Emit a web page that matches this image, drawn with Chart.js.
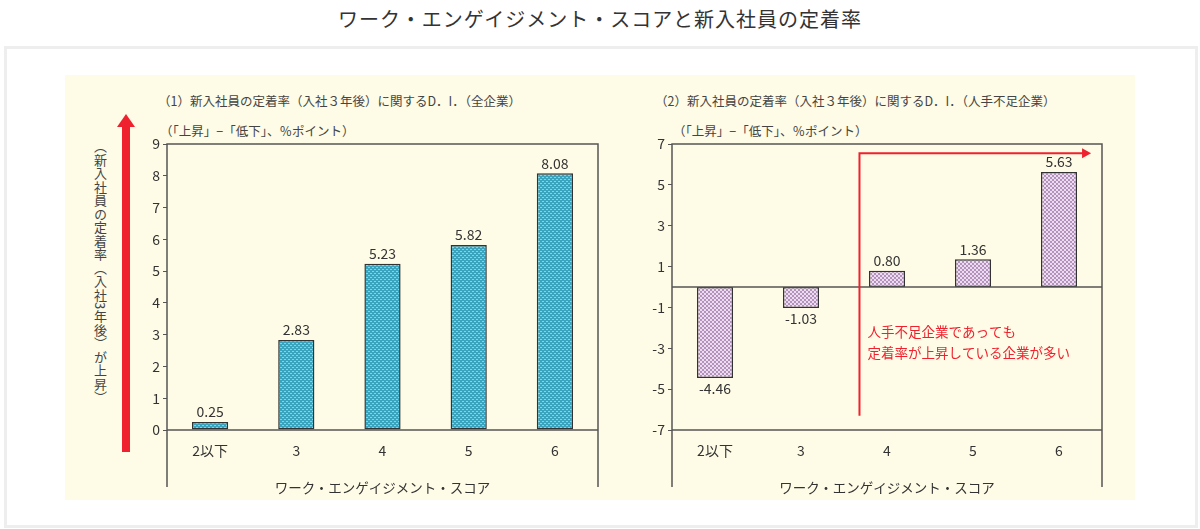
<!DOCTYPE html>
<html><head><meta charset="utf-8">
<script src="https://cdn.jsdelivr.net/npm/chart.js@4"></script>
<style>
body{margin:0;width:1200px;height:529px;background:#fff;font-family:"Noto Sans CJK JP","Noto Sans",sans-serif;position:relative;overflow:hidden;color:#333}
#title{position:absolute;top:4px;left:0;width:1200px;text-align:center;font-size:20px;letter-spacing:1px}
#card{position:absolute;left:4px;top:46px;width:1188px;height:476px;border:3px solid #eee}
#panel{position:absolute;left:65px;top:75px;width:1070px;height:425px;background:#fefbe6}
.t{position:absolute;font-size:12.5px;color:#444;white-space:nowrap}
#vt{position:absolute;left:91px;top:140px;writing-mode:vertical-rl;font-size:13px;color:#444;letter-spacing:0.5px}
#arrow{position:absolute;left:122px;top:126px;width:8px;height:326px;background:#f0212e}
#ahead{position:absolute;left:117px;top:114px;width:0;height:0;border-left:9px solid transparent;border-right:9px solid transparent;border-bottom:13px solid #f0212e}
canvas{position:absolute}
</style></head><body>
<div id="title">ワーク・エンゲイジメント・スコアと新入社員の定着率</div>
<div id="card"></div>
<div id="panel"></div>
<div class="t" style="left:158px;top:91px">（1）新入社員の定着率（入社３年後）に関するD．I．（全企業）</div>
<div class="t" style="left:160px;top:121px">（「上昇」−「低下」、％ポイント）</div>
<div class="t" style="left:655px;top:91px">（2）新入社員の定着率（入社３年後）に関するD．I．（人手不足企業）</div>
<div class="t" style="left:673px;top:121px">（「上昇」−「低下」、％ポイント）</div>
<div id="vt">（新入社員の定着率（入社3年後）が上昇）</div>
<div id="arrow"></div><div id="ahead"></div>
<canvas id="c1" width="480" height="415" style="left:130px;top:85px;width:480px;height:415px"></canvas>
<canvas id="c2" width="470" height="415" style="left:640px;top:85px;width:470px;height:415px"></canvas>
<script>
const categories = ["2以下", "3", "4", "5", "6"];
const allValues = [0.25, 2.83, 5.23, 5.82, 8.08];
const shortageValues = [-4.46, -1.03, 0.80, 1.36, 5.63];
const allTicks = [0, 1, 2, 3, 4, 5, 6, 7, 8, 9];
const shortageTicks = [-7, -5, -3, -1, 1, 3, 5, 7];
const axisTitle = "ワーク・エンゲイジメント・スコア";
const noteLines = ["人手不足企業であっても", "定着率が上昇している企業が多い"];

const FONT = '"Noto Sans CJK JP", "Noto Sans", sans-serif';

// 網掛けパターン
function makePattern(base, dot, kind) {
    const p = document.createElement("canvas");
    p.width = 4; p.height = 4;
    const g = p.getContext("2d");
    g.fillStyle = base; g.fillRect(0, 0, 4, 4);
    g.fillStyle = dot;
    if (kind === "wave") { g.fillRect(0, 0, 2, 1); g.fillRect(2, 2, 2, 1); }
    else { g.fillRect(0, 0, 2, 2); g.fillRect(2, 2, 2, 2); }
    return g.createPattern(p, "repeat");
}

const framePlugin = {
    id: "frame",
    afterDraw(chart, args, opts) {
        const { ctx, chartArea: a, scales } = chart;
        ctx.save();
        ctx.strokeStyle = "#555"; ctx.lineWidth = 1.5;
        ctx.beginPath();
        ctx.moveTo(a.left, a.bottom + 57); ctx.lineTo(a.left, a.top); ctx.lineTo(a.right, a.top); ctx.lineTo(a.right, a.bottom + 57);
        const y0 = scales.y.getPixelForValue(0);
        ctx.moveTo(a.left, y0); ctx.lineTo(a.right, y0);
        ctx.moveTo(a.left, a.bottom); ctx.lineTo(a.right, a.bottom);
        ctx.stroke();
        // 値ラベル
        ctx.fillStyle = "#333"; ctx.font = "14px " + FONT; ctx.textAlign = "center";
        const meta = chart.getDatasetMeta(0);
        chart.data.datasets[0].data.forEach((v, i) => {
            const bar = meta.data[i];
            const txt = v.toFixed(2);
            if (v >= 0) { ctx.textBaseline = "bottom"; ctx.fillText(txt, bar.x, bar.y - 3); }
            else { ctx.textBaseline = "top"; ctx.fillText(txt, bar.x, bar.y + 4); }
        });
        if (opts.note) {
            const x = scales.x.getPixelForValue(1.68);
            const yb = scales.y.getPixelForValue(-6.3), yt = scales.y.getPixelForValue(6.55);
            const xe = scales.x.getPixelForValue(4.28);
            ctx.strokeStyle = "#f0212e"; ctx.lineWidth = 2;
            ctx.beginPath(); ctx.moveTo(x, yb); ctx.lineTo(x, yt); ctx.lineTo(xe, yt); ctx.stroke();
            ctx.fillStyle = "#f0212e";
            ctx.beginPath(); ctx.moveTo(xe + 8, yt); ctx.lineTo(xe - 1, yt - 5); ctx.lineTo(xe - 1, yt + 5); ctx.fill();
            ctx.font = "13.5px " + FONT; ctx.textAlign = "left"; ctx.textBaseline = "middle";
            noteLines.forEach((s, k) => ctx.fillText(s, x + 8, scales.y.getPixelForValue(-2.2) + k * 21));
        }
        ctx.restore();
    }
};

function createChart(id, values, ticks, fill, yWidth, padRight, note) {
    new Chart(document.getElementById(id), {
        type: "bar",
        data: {
            labels: categories,
            datasets: [{ data: values, backgroundColor: fill, borderColor: "#333", borderWidth: 1.5, borderSkipped: false,
                barPercentage: 0.42, categoryPercentage: 1 }]
        },
        options: {
            responsive: false, animation: false,
            layout: { padding: { top: 59, right: padRight, bottom: 0, left: 0 } },
            plugins: { legend: { display: false }, tooltip: { enabled: false }, frame: { note: note } },
            scales: {
                x: {
                    grid: { display: false }, border: { display: false },
                    ticks: { color: "#333", font: { size: 14, family: FONT }, padding: 4 },
                    title: { display: true, text: axisTitle, color: "#333", font: { size: 13.5, family: FONT }, padding: { top: 4 } },
                    afterFit(s) { s.height = 70; }
                },
                y: {
                    min: ticks[0], max: ticks[ticks.length - 1],
                    afterBuildTicks(s) { s.ticks = ticks.map(v => ({ value: v })); },
                    grid: { display: true, drawOnChartArea: false, drawTicks: true, tickLength: 4, color: "#555" },
                    border: { display: false },
                    ticks: { color: "#333", font: { size: 14, family: FONT }, padding: 3 },
                    afterFit(s) { s.width = yWidth; }
                }
            }
        },
        plugins: [framePlugin]
    });
}

const c1 = document.getElementById("c1").getContext("2d");
const c2 = document.getElementById("c2").getContext("2d");
createChart("c1", allValues, allTicks, makePattern("#3aa3bd", "#8fd0df", "wave"), 37, 12, false);
createChart("c2", shortageValues, shortageTicks, makePattern("#b592bd", "#ecdcef", "dot"), 32, 8, true);
</script>
</body></html>
